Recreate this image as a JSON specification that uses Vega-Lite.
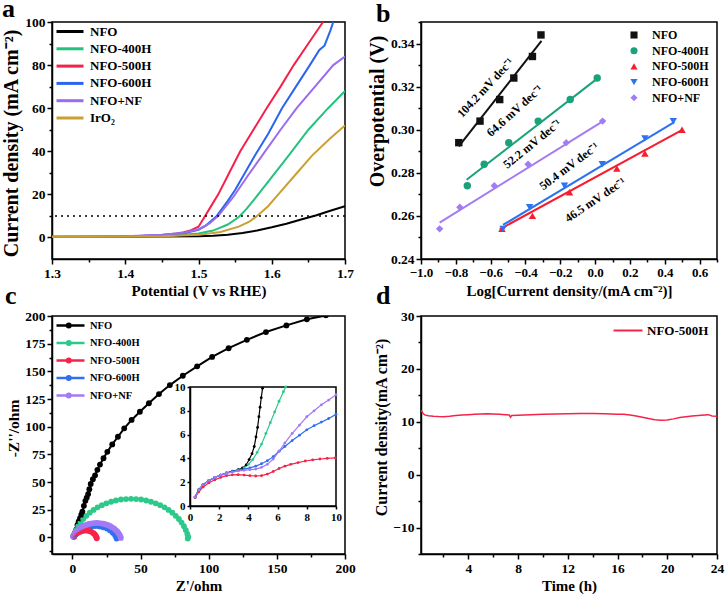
{
"$schema":"https://vega.github.io/schema/vega-lite/v6.json",
"autosize":{"type":"none"},
"padding":{"left":52,"top":22,"right":674,"bottom":582},
"background":"white",
"columns":2,
"spacing":{"row":57,"column":76},
"bounds":"flush",
"align":"each",
"resolve":{"scale":{"color":"independent","shape":"independent","stroke":"independent"},"legend":{"color":"independent","shape":"independent","stroke":"independent"}},
"config":{
 "view":{"stroke":"black","strokeWidth":1.5},
 "font":"Liberation Serif",
 "title":{"font":"Liberation Serif","fontSize":26,"fontWeight":"bold","color":"black","anchor":"start","frame":"group"},
 "axis":{"domainColor":"black","domainWidth":1.5,"tickColor":"black","tickWidth":1.5,"tickSize":5,"labelFont":"Liberation Serif","labelFontSize":13.5,"labelFontWeight":"bold","labelColor":"black","titleFont":"Liberation Serif","titleFontSize":15,"titleFontWeight":"bold","titleColor":"black","grid":false,"labelPadding":2,"titlePadding":4,"labelFlush":false,"labelOverlap":false},
 "axisY":{"titlePadding":3},
 "legend":{"labelFont":"Liberation Serif","labelFontWeight":"bold","labelColor":"black","title":null,"padding":0}
},
"concat":[
{
 "width":293,"height":237,
 "title":{"text":"a","dx":-50,"dy":7,"offset":0},
 "resolve":{"axis":{"x":"independent","y":"independent"}},
 "data":{"values":[
{"s":"NFO","v":1.30,"j":0.2},{"s":"NFO","v":1.35,"j":0.2},{"s":"NFO","v":1.40,"j":0.3},{"s":"NFO","v":1.45,"j":0.4},{"s":"NFO","v":1.50,"j":0.6},{"s":"NFO","v":1.52,"j":0.8},{"s":"NFO","v":1.54,"j":1.3},{"s":"NFO","v":1.56,"j":2.1},{"s":"NFO","v":1.58,"j":3.2},{"s":"NFO","v":1.60,"j":4.7},{"s":"NFO","v":1.62,"j":6.4},{"s":"NFO","v":1.64,"j":8.3},{"s":"NFO","v":1.66,"j":10.2},{"s":"NFO","v":1.68,"j":12.4},{"s":"NFO","v":1.70,"j":14.5},
{"s":"NFO-400H","v":1.30,"j":0.2},{"s":"NFO-400H","v":1.40,"j":0.4},{"s":"NFO-400H","v":1.45,"j":0.6},{"s":"NFO-400H","v":1.50,"j":1.8},{"s":"NFO-400H","v":1.52,"j":3.2},{"s":"NFO-400H","v":1.54,"j":6.0},{"s":"NFO-400H","v":1.555,"j":9.5},{"s":"NFO-400H","v":1.565,"j":13},{"s":"NFO-400H","v":1.577,"j":18},{"s":"NFO-400H","v":1.60,"j":28},{"s":"NFO-400H","v":1.623,"j":38},{"s":"NFO-400H","v":1.65,"j":50},{"s":"NFO-400H","v":1.677,"j":60},{"s":"NFO-400H","v":1.70,"j":68},
{"s":"NFO-500H","v":1.30,"j":0.3},{"s":"NFO-500H","v":1.35,"j":0.3},{"s":"NFO-500H","v":1.40,"j":0.5},{"s":"NFO-500H","v":1.43,"j":0.8},{"s":"NFO-500H","v":1.45,"j":1.1},{"s":"NFO-500H","v":1.47,"j":1.8},{"s":"NFO-500H","v":1.48,"j":2.4},{"s":"NFO-500H","v":1.49,"j":3.4},{"s":"NFO-500H","v":1.50,"j":5.0},{"s":"NFO-500H","v":1.509,"j":10},{"s":"NFO-500H","v":1.518,"j":15},{"s":"NFO-500H","v":1.527,"j":20},{"s":"NFO-500H","v":1.542,"j":30},{"s":"NFO-500H","v":1.557,"j":40},{"s":"NFO-500H","v":1.575,"j":50},{"s":"NFO-500H","v":1.593,"j":60},{"s":"NFO-500H","v":1.612,"j":70},{"s":"NFO-500H","v":1.63,"j":80},{"s":"NFO-500H","v":1.65,"j":90},{"s":"NFO-500H","v":1.67,"j":100},
{"s":"NFO-600H","v":1.30,"j":0.3},{"s":"NFO-600H","v":1.40,"j":0.5},{"s":"NFO-600H","v":1.45,"j":1.0},{"s":"NFO-600H","v":1.48,"j":2.0},{"s":"NFO-600H","v":1.50,"j":3.5},{"s":"NFO-600H","v":1.51,"j":5.5},{"s":"NFO-600H","v":1.52,"j":8.5},{"s":"NFO-600H","v":1.525,"j":10},{"s":"NFO-600H","v":1.54,"j":17},{"s":"NFO-600H","v":1.55,"j":22},{"s":"NFO-600H","v":1.577,"j":38},{"s":"NFO-600H","v":1.595,"j":48},{"s":"NFO-600H","v":1.614,"j":60},{"s":"NFO-600H","v":1.633,"j":70},{"s":"NFO-600H","v":1.652,"j":80},{"s":"NFO-600H","v":1.665,"j":87},{"s":"NFO-600H","v":1.672,"j":89},{"s":"NFO-600H","v":1.68,"j":96},{"s":"NFO-600H","v":1.684,"j":100},
{"s":"NFO+NF","v":1.30,"j":0.3},{"s":"NFO+NF","v":1.40,"j":0.6},{"s":"NFO+NF","v":1.45,"j":1.2},{"s":"NFO+NF","v":1.48,"j":2.2},{"s":"NFO+NF","v":1.50,"j":3.8},{"s":"NFO+NF","v":1.515,"j":6.5},{"s":"NFO+NF","v":1.527,"j":10},{"s":"NFO+NF","v":1.548,"j":19},{"s":"NFO+NF","v":1.568,"j":29},{"s":"NFO+NF","v":1.589,"j":39},{"s":"NFO+NF","v":1.612,"j":50},{"s":"NFO+NF","v":1.634,"j":60},{"s":"NFO+NF","v":1.659,"j":70},{"s":"NFO+NF","v":1.684,"j":80},{"s":"NFO+NF","v":1.70,"j":84},
{"s":"IrO₂","v":1.30,"j":0.3},{"s":"IrO₂","v":1.40,"j":0.4},{"s":"IrO₂","v":1.45,"j":0.6},{"s":"IrO₂","v":1.50,"j":1.2},{"s":"IrO₂","v":1.53,"j":2.5},{"s":"IrO₂","v":1.555,"j":5.0},{"s":"IrO₂","v":1.57,"j":7.5},{"s":"IrO₂","v":1.58,"j":10},{"s":"IrO₂","v":1.595,"j":14.5},{"s":"IrO₂","v":1.609,"j":20},{"s":"IrO₂","v":1.632,"j":29},{"s":"IrO₂","v":1.655,"j":38},{"s":"IrO₂","v":1.68,"j":46},{"s":"IrO₂","v":1.70,"j":52}
 ]},
 "layer":[
  {"mark":{"type":"point","opacity":0},
   "encoding":{
    "x":{"field":"v","type":"quantitative","axis":{"orient":"bottom","values":[1.35,1.45,1.55,1.65],"labels":false,"domain":false,"tickSize":3,"title":null}},
    "y":{"field":"j","type":"quantitative","axis":{"orient":"left","values":[10,30,50,70,90],"labels":false,"domain":false,"tickSize":3,"title":null}}
   }},
  {"mark":{"type":"line","strokeWidth":2,"clip":true},
   "encoding":{
    "x":{"field":"v","type":"quantitative","scale":{"domain":[1.3,1.7],"nice":false,"zero":false},"axis":{"orient":"bottom","values":[1.3,1.4,1.5,1.6,1.7],"format":".1f","labelOverlap":false,"title":"Potential (V vs RHE)"}},
    "y":{"field":"j","type":"quantitative","scale":{"domain":[-10,100],"nice":false},"axis":{"orient":"left","values":[0,20,40,60,80,100],"labelOverlap":false,"title":"Current density (mA cm⁻²)","titleFontSize":20,"titleY":121}},
    "color":{"field":"s","type":"nominal","scale":{"domain":["NFO","NFO-400H","NFO-500H","NFO-600H","NFO+NF","IrO₂"],"range":["#000000","#25c17f","#f4224b","#2b65ef","#9b6bf0","#c9a033"]},
      "legend":{"orient":"top-left","offset":3,"symbolType":"M-1,0H4.4","symbolSize":100,"symbolStrokeWidth":3,"labelFontSize":13,"labelOffset":22,"rowPadding":3.3}}
   }},
  {"data":{"values":[{"ref":10}]},"mark":{"type":"rule","strokeDash":[2,4],"strokeWidth":1.5,"color":"black"},"encoding":{"y":{"field":"ref","type":"quantitative","axis":null}}}
 ]
},
{
 "width":296,"height":237,
 "title":{"text":"b","dx":-45,"dy":6,"offset":0},
 "resolve":{"axis":{"x":"independent","y":"independent"}},
 "data":{"values":[
{"s":"NFO","x":-0.783,"y":0.294},{"s":"NFO","x":-0.661,"y":0.304},{"s":"NFO","x":-0.548,"y":0.314},{"s":"NFO","x":-0.467,"y":0.324},{"s":"NFO","x":-0.36,"y":0.334},{"s":"NFO","x":-0.311,"y":0.344},
{"s":"NFO-400H","x":-0.734,"y":0.274},{"s":"NFO-400H","x":-0.637,"y":0.284},{"s":"NFO-400H","x":-0.496,"y":0.294},{"s":"NFO-400H","x":-0.327,"y":0.304},{"s":"NFO-400H","x":-0.143,"y":0.314},{"s":"NFO-400H","x":0.012,"y":0.324},
{"s":"NFO-500H","x":-0.535,"y":0.254},{"s":"NFO-500H","x":-0.36,"y":0.260},{"s":"NFO-500H","x":-0.147,"y":0.271},{"s":"NFO-500H","x":0.125,"y":0.282},{"s":"NFO-500H","x":0.286,"y":0.289},{"s":"NFO-500H","x":0.499,"y":0.300},
{"s":"NFO-600H","x":-0.529,"y":0.254},{"s":"NFO-600H","x":-0.376,"y":0.264},{"s":"NFO-600H","x":-0.176,"y":0.274},{"s":"NFO-600H","x":0.041,"y":0.284},{"s":"NFO-600H","x":0.286,"y":0.296},{"s":"NFO-600H","x":0.449,"y":0.304},
{"s":"NFO+NF","x":-0.893,"y":0.254},{"s":"NFO+NF","x":-0.777,"y":0.264},{"s":"NFO+NF","x":-0.579,"y":0.274},{"s":"NFO+NF","x":-0.385,"y":0.284},{"s":"NFO+NF","x":-0.166,"y":0.294},{"s":"NFO+NF","x":0.043,"y":0.304}
 ]},
 "layer":[
  {"mark":{"type":"point","opacity":0},
   "encoding":{
    "x":{"field":"x","type":"quantitative","axis":{"orient":"bottom","values":[-0.9,-0.7,-0.5,-0.3,-0.1,0.1,0.3,0.5,0.7],"labels":false,"domain":false,"tickSize":3,"title":null}},
    "y":{"field":"y","type":"quantitative","axis":{"orient":"left","values":[0.25,0.27,0.29,0.31,0.33,0.35],"labels":false,"domain":false,"tickSize":3,"title":null}}
   }},
  {"data":{"values":[
{"s":"NFO","x":-0.783,"y":0.2923},{"s":"NFO","x":-0.308,"y":0.3412},
{"s":"NFO-400H","x":-0.738,"y":0.2768},{"s":"NFO-400H","x":0.012,"y":0.3237},
{"s":"NFO-500H","x":-0.548,"y":0.2538},{"s":"NFO-500H","x":0.493,"y":0.2996},
{"s":"NFO-600H","x":-0.529,"y":0.2558},{"s":"NFO-600H","x":0.455,"y":0.3035},
{"s":"NFO+NF","x":-0.893,"y":0.2569},{"s":"NFO+NF","x":0.041,"y":0.3038}
  ]},
   "mark":{"type":"line","strokeWidth":2},
   "encoding":{
    "x":{"field":"x","type":"quantitative","scale":{"domain":[-1.0,0.7],"nice":false,"zero":false},"axis":{"orient":"bottom","values":[-1.0,-0.8,-0.6,-0.4,-0.2,0,0.2,0.4,0.6],"format":".1f","labelOverlap":false,"labelFontSize":13,"title":"Log[Current density/(mA cm⁻²)]"}},
    "y":{"field":"y","type":"quantitative","scale":{"domain":[0.24,0.35],"nice":false,"zero":false},"axis":{"orient":"left","values":[0.24,0.26,0.28,0.30,0.32,0.34],"format":".2f","labelOverlap":false,"title":"Overpotential (V)","titleFontSize":20,"titleY":89}},
    "stroke":{"field":"s","type":"nominal","scale":{"domain":["NFO+NF","NFO-600H","NFO-500H","NFO-400H","NFO"],"range":["#a27cf2","#2b73f0","#f51d2e","#1aa27a","#111111"]},"legend":null}
   }},
  {"mark":{"type":"point","filled":true,"size":55,"opacity":1},
   "encoding":{
    "x":{"field":"x","type":"quantitative","axis":null},
    "y":{"field":"y","type":"quantitative","axis":null},
    "color":{"field":"s","type":"nominal","scale":{"domain":["NFO","NFO-400H","NFO-500H","NFO-600H","NFO+NF"],"range":["#111111","#1aa27a","#f51d2e","#2b73f0","#a27cf2"]},"legend":{"orient":"none","legendX":207,"legendY":7,"labelFontSize":12,"symbolSize":50,"labelOffset":12,"rowPadding":3.7}},
    "shape":{"field":"s","type":"nominal","scale":{"domain":["NFO","NFO-400H","NFO-500H","NFO-600H","NFO+NF"],"range":["square","circle","triangle-up","triangle-down","diamond"]},"legend":{"orient":"none","legendX":207,"legendY":7,"labelFontSize":12,"symbolSize":50,"labelOffset":12,"rowPadding":3.7}}
   }},
  {"data":{"values":[{"x":-0.631,"y":0.3195,"t":"104.2 mV dec⁻¹"}]},"mark":{"type":"text","angle":313,"fontSize":12,"fontWeight":"bold","font":"Liberation Serif","color":"black","baseline":"middle","align":"center"},"encoding":{"x":{"field":"x","type":"quantitative","axis":null},"y":{"field":"y","type":"quantitative","axis":null},"text":{"field":"t"}}},
  {"data":{"values":[{"x":-0.463,"y":0.3088,"t":"64.6 mV dec⁻¹"}]},"mark":{"type":"text","angle":318,"fontSize":12,"fontWeight":"bold","font":"Liberation Serif","color":"black","baseline":"middle","align":"center"},"encoding":{"x":{"field":"x","type":"quantitative","axis":null},"y":{"field":"y","type":"quantitative","axis":null},"text":{"field":"t"}}},
  {"data":{"values":[{"x":-0.362,"y":0.2935,"t":"52.2 mV dec⁻¹"}]},"mark":{"type":"text","angle":321,"fontSize":12,"fontWeight":"bold","font":"Liberation Serif","color":"black","baseline":"middle","align":"center"},"encoding":{"x":{"field":"x","type":"quantitative","axis":null},"y":{"field":"y","type":"quantitative","axis":null},"text":{"field":"t"}}},
  {"data":{"values":[{"x":-0.150,"y":0.2831,"t":"50.4 mV dec⁻¹"}]},"mark":{"type":"text","angle":323,"fontSize":12,"fontWeight":"bold","font":"Liberation Serif","color":"black","baseline":"middle","align":"center"},"encoding":{"x":{"field":"x","type":"quantitative","axis":null},"y":{"field":"y","type":"quantitative","axis":null},"text":{"field":"t"}}},
  {"data":{"values":[{"x":0.0,"y":0.2675,"t":"46.5 mV dec⁻¹"}]},"mark":{"type":"text","angle":326,"fontSize":12,"fontWeight":"bold","font":"Liberation Serif","color":"black","baseline":"middle","align":"center"},"encoding":{"x":{"field":"x","type":"quantitative","axis":null},"y":{"field":"y","type":"quantitative","axis":null},"text":{"field":"t"}}}
 ]
},
{
 "width":293,"height":238,
 "title":{"text":"c","dx":-47,"offset":0},
 "encoding":{"color":{"field":"s","type":"nominal","scale":{"domain":["NFO","NFO-400H","NFO-500H","NFO-600H","NFO+NF"],"range":["#000000","#2dc98b","#f5234a","#2f6ff0","#a27af5"]},
   "legend":{"orient":"top-left","offset":3,"symbolType":"M-1,0H4.6M1.45,0m-0.35,0a0.35,0.35 0 1,0 0.7,0a0.35,0.35 0 1,0 -0.7,0","symbolSize":100,"symbolStrokeWidth":2.5,"labelFontSize":10.5,"labelOffset":22,"rowPadding":2.5}}},
 "resolve":{"scale":{"x":"independent","y":"independent"},"axis":{"x":"independent","y":"independent"}},
 "data":{"values":[
{"s":"NFO","i":0,"x":0.8,"y":1.5},{"s":"NFO","i":1,"x":1.8,"y":4},{"s":"NFO","i":2,"x":2.8,"y":7},{"s":"NFO","i":3,"x":3.7,"y":11.2},{"s":"NFO","i":4,"x":4.6,"y":14.5},{"s":"NFO","i":5,"x":5.6,"y":17.3},{"s":"NFO","i":6,"x":6.5,"y":20.5},{"s":"NFO","i":7,"x":7.3,"y":23.3},{"s":"NFO","i":8,"x":8.4,"y":28.5},{"s":"NFO","i":9,"x":9.5,"y":33},{"s":"NFO","i":10,"x":10.5,"y":36},{"s":"NFO","i":11,"x":11.5,"y":39.1},{"s":"NFO","i":12,"x":12.4,"y":43.5},{"s":"NFO","i":13,"x":13.4,"y":48.2},{"s":"NFO","i":14,"x":15,"y":52.5},{"s":"NFO","i":15,"x":16.6,"y":56.1},{"s":"NFO","i":16,"x":18.3,"y":61},{"s":"NFO","i":17,"x":20.2,"y":65.8},{"s":"NFO","i":18,"x":22.8,"y":71.5},{"s":"NFO","i":19,"x":25.6,"y":77.3},{"s":"NFO","i":20,"x":29.2,"y":84},{"s":"NFO","i":21,"x":33.4,"y":90.9},{"s":"NFO","i":22,"x":38,"y":98.5},{"s":"NFO","i":23,"x":43.4,"y":106.1},{"s":"NFO","i":24,"x":49.5,"y":113.5},{"s":"NFO","i":25,"x":56.1,"y":121.2},{"s":"NFO","i":26,"x":63.5,"y":129.5},{"s":"NFO","i":27,"x":71.5,"y":137.6},{"s":"NFO","i":28,"x":81,"y":146},{"s":"NFO","i":29,"x":91.5,"y":154.5},{"s":"NFO","i":30,"x":102.5,"y":163},{"s":"NFO","i":31,"x":114.6,"y":170.9},{"s":"NFO","i":32,"x":128,"y":178.5},{"s":"NFO","i":33,"x":142,"y":185.5},{"s":"NFO","i":34,"x":157,"y":191.5},{"s":"NFO","i":35,"x":172,"y":197},{"s":"NFO","i":36,"x":186,"y":200.5},
{"s":"NFO-400H","i":0,"x":1.0,"y":0.5},{"s":"NFO-400H","i":1,"x":1.7,"y":3.1},{"s":"NFO-400H","i":2,"x":2.8,"y":6.6},{"s":"NFO-400H","i":3,"x":4.2,"y":10.1},{"s":"NFO-400H","i":4,"x":5.9,"y":13.4},{"s":"NFO-400H","i":5,"x":7.9,"y":16.6},{"s":"NFO-400H","i":6,"x":10.2,"y":19.5},{"s":"NFO-400H","i":7,"x":12.7,"y":22.3},{"s":"NFO-400H","i":8,"x":15.5,"y":24.8},{"s":"NFO-400H","i":9,"x":18.4,"y":27.1},{"s":"NFO-400H","i":10,"x":21.6,"y":29.1},{"s":"NFO-400H","i":11,"x":24.9,"y":30.8},{"s":"NFO-400H","i":12,"x":28.4,"y":32.2},{"s":"NFO-400H","i":13,"x":31.9,"y":33.3},{"s":"NFO-400H","i":14,"x":35.6,"y":34.2},{"s":"NFO-400H","i":15,"x":39.3,"y":34.6},{"s":"NFO-400H","i":16,"x":43,"y":34.8},{"s":"NFO-400H","i":17,"x":46.7,"y":34.6},{"s":"NFO-400H","i":18,"x":50.4,"y":34.2},{"s":"NFO-400H","i":19,"x":54.1,"y":33.3},{"s":"NFO-400H","i":20,"x":57.6,"y":32.2},{"s":"NFO-400H","i":21,"x":61.1,"y":30.8},{"s":"NFO-400H","i":22,"x":64.4,"y":29.1},{"s":"NFO-400H","i":23,"x":67.6,"y":27.1},{"s":"NFO-400H","i":24,"x":70.5,"y":24.8},{"s":"NFO-400H","i":25,"x":73.3,"y":22.3},{"s":"NFO-400H","i":26,"x":75.8,"y":19.5},{"s":"NFO-400H","i":27,"x":78.1,"y":16.6},{"s":"NFO-400H","i":28,"x":80.1,"y":13.4},{"s":"NFO-400H","i":29,"x":81.8,"y":10.1},{"s":"NFO-400H","i":30,"x":83.2,"y":6.6},{"s":"NFO-400H","i":31,"x":84.3,"y":3.1},{"s":"NFO-400H","i":32,"x":85.0,"y":0.5},{"s":"NFO-400H","i":33,"x":84.6,"y":-1.0},
{"s":"NFO-500H","i":0,"x":1.2,"y":0.5},{"s":"NFO-500H","i":1,"x":1.5,"y":1.5},{"s":"NFO-500H","i":2,"x":2.2,"y":2.6},{"s":"NFO-500H","i":3,"x":3.2,"y":3.6},{"s":"NFO-500H","i":4,"x":4.4,"y":4.5},{"s":"NFO-500H","i":5,"x":5.7,"y":5.2},{"s":"NFO-500H","i":6,"x":7.1,"y":5.8},{"s":"NFO-500H","i":7,"x":8.5,"y":6.2},{"s":"NFO-500H","i":8,"x":10,"y":6.3},{"s":"NFO-500H","i":9,"x":11.5,"y":6.1},{"s":"NFO-500H","i":10,"x":12.9,"y":5.6},{"s":"NFO-500H","i":11,"x":14.2,"y":4.8},{"s":"NFO-500H","i":12,"x":15.4,"y":3.8},{"s":"NFO-500H","i":13,"x":16.4,"y":2.6},{"s":"NFO-500H","i":14,"x":17.2,"y":1.3},{"s":"NFO-500H","i":15,"x":17.7,"y":0},{"s":"NFO-500H","i":16,"x":17.8,"y":-0.8},
{"s":"NFO-600H","i":0,"x":0.8,"y":0.5},{"s":"NFO-600H","i":1,"x":1.5,"y":1.6},{"s":"NFO-600H","i":2,"x":2.7,"y":3.3},{"s":"NFO-600H","i":3,"x":4.4,"y":5.0},{"s":"NFO-600H","i":4,"x":6.4,"y":6.6},{"s":"NFO-600H","i":5,"x":8.75,"y":8.0},{"s":"NFO-600H","i":6,"x":11.4,"y":9.2},{"s":"NFO-600H","i":7,"x":14.1,"y":9.95},{"s":"NFO-600H","i":8,"x":17,"y":10.2},{"s":"NFO-600H","i":9,"x":19.9,"y":9.95},{"s":"NFO-600H","i":10,"x":22.6,"y":9.2},{"s":"NFO-600H","i":11,"x":25.3,"y":8.0},{"s":"NFO-600H","i":12,"x":27.6,"y":6.3},{"s":"NFO-600H","i":13,"x":29.6,"y":4.3},{"s":"NFO-600H","i":14,"x":31.3,"y":1.95},{"s":"NFO-600H","i":15,"x":32.3,"y":0},{"s":"NFO-600H","i":16,"x":32.4,"y":-1},
{"s":"NFO+NF","i":0,"x":0.4,"y":0.8},{"s":"NFO+NF","i":1,"x":1.0,"y":2.5},{"s":"NFO+NF","i":2,"x":1.8,"y":3.75},{"s":"NFO+NF","i":3,"x":2.6,"y":5.1},{"s":"NFO+NF","i":4,"x":3.6,"y":6.4},{"s":"NFO+NF","i":5,"x":4.7,"y":7.6},{"s":"NFO+NF","i":6,"x":5.9,"y":8.67},{"s":"NFO+NF","i":7,"x":7.2,"y":9.6},{"s":"NFO+NF","i":8,"x":8.55,"y":10.5},{"s":"NFO+NF","i":9,"x":10,"y":11.2},{"s":"NFO+NF","i":10,"x":11.5,"y":11.9},{"s":"NFO+NF","i":11,"x":13,"y":12.3},{"s":"NFO+NF","i":12,"x":14.6,"y":12.7},{"s":"NFO+NF","i":13,"x":16.2,"y":12.9},{"s":"NFO+NF","i":14,"x":17.8,"y":13.0},{"s":"NFO+NF","i":15,"x":19.4,"y":12.9},{"s":"NFO+NF","i":16,"x":21.0,"y":12.7},{"s":"NFO+NF","i":17,"x":22.6,"y":12.3},{"s":"NFO+NF","i":18,"x":24.1,"y":11.9},{"s":"NFO+NF","i":19,"x":25.6,"y":11.2},{"s":"NFO+NF","i":20,"x":27.1,"y":10.5},{"s":"NFO+NF","i":21,"x":28.4,"y":9.6},{"s":"NFO+NF","i":22,"x":29.7,"y":8.67},{"s":"NFO+NF","i":23,"x":30.9,"y":7.6},{"s":"NFO+NF","i":24,"x":32.0,"y":6.4},{"s":"NFO+NF","i":25,"x":33.0,"y":5.1},{"s":"NFO+NF","i":26,"x":33.8,"y":3.75},{"s":"NFO+NF","i":27,"x":34.6,"y":2.3},{"s":"NFO+NF","i":28,"x":35.2,"y":0.83},{"s":"NFO+NF","i":29,"x":35.5,"y":-0.5}
 ]},
 "layer":[
  {"mark":{"type":"point","opacity":0},
   "encoding":{
    "x":{"field":"x","type":"quantitative","scale":{"domain":[-15,200],"nice":false,"zero":false},"axis":{"orient":"bottom","values":[25,75,125,175],"labels":false,"domain":false,"tickSize":3,"title":null}},
    "y":{"field":"y","type":"quantitative","scale":{"domain":[-15,200],"nice":false,"zero":false},"axis":{"orient":"left","values":[-12.5,12.5,37.5,62.5,87.5,112.5,137.5,162.5,187.5],"labels":false,"domain":false,"tickSize":3,"title":null}}
   }},
  {"encoding":{
    "x":{"field":"x","type":"quantitative","scale":{"domain":[-15,200],"nice":false,"zero":false},"axis":{"orient":"bottom","values":[0,50,100,150,200],"labelOverlap":false,"title":"Z'/ohm"}},
    "y":{"field":"y","type":"quantitative","scale":{"domain":[-15,200],"nice":false,"zero":false},"axis":{"orient":"left","values":[0,25,50,75,100,125,150,175,200],"labelOverlap":false,"title":"-Z''/ohm","titleFontSize":15.5,"titleY":112}},
    "order":{"field":"i","type":"quantitative"}
   },
   "layer":[
    {"mark":{"type":"line","strokeWidth":2,"clip":true}},
    {"mark":{"type":"point","filled":true,"opacity":1,"size":34,"clip":true}}
   ]},
  {"layer":[
    {"data":{"values":[{"x0":0,"x1":10,"y0":0,"y1":10}]},
     "mark":{"type":"rect","fill":"white","stroke":"black","strokeWidth":1.5},
     "encoding":{"x":{"field":"x0","type":"quantitative","scale":{"domain":[0,10],"range":[138,284],"nice":false,"zero":false},"axis":{"orient":"bottom","offset":-48,"values":[0,2,4,6,8,10],"labelOverlap":false,"labelFontSize":11,"tickSize":3,"title":null,"zindex":2}},"x2":{"field":"x1"},
      "y":{"field":"y0","type":"quantitative","scale":{"domain":[0,10],"range":[190,71],"nice":false,"zero":false},"axis":{"orient":"left","offset":-138,"values":[0,2,4,6,8,10],"labelOverlap":false,"labelFontSize":11,"tickSize":3,"title":null,"zindex":2}},"y2":{"field":"y1"},"color":{"value":"white"}}},
    {"data":{"values":[
{"s":"NFO","i":0,"x":0.35,"y":0.75},{"s":"NFO","i":1,"x":0.6,"y":1.35},{"s":"NFO","i":2,"x":0.9,"y":1.8},{"s":"NFO","i":3,"x":1.3,"y":2.15},{"s":"NFO","i":4,"x":1.7,"y":2.4},{"s":"NFO","i":5,"x":2.1,"y":2.6},{"s":"NFO","i":6,"x":2.5,"y":2.78},{"s":"NFO","i":7,"x":2.9,"y":2.92},{"s":"NFO","i":8,"x":3.3,"y":3.05},{"s":"NFO","i":9,"x":3.6,"y":3.2},{"s":"NFO","i":10,"x":3.85,"y":3.45},{"s":"NFO","i":11,"x":4.05,"y":3.9},{"s":"NFO","i":12,"x":4.25,"y":4.4},{"s":"NFO","i":13,"x":4.4,"y":5.0},{"s":"NFO","i":14,"x":4.52,"y":5.8},{"s":"NFO","i":15,"x":4.63,"y":6.6},{"s":"NFO","i":16,"x":4.72,"y":7.5},{"s":"NFO","i":17,"x":4.8,"y":8.3},{"s":"NFO","i":18,"x":4.88,"y":9.1},{"s":"NFO","i":19,"x":4.97,"y":9.9},
{"s":"NFO-400H","i":0,"x":0.35,"y":0.75},{"s":"NFO-400H","i":1,"x":0.6,"y":1.35},{"s":"NFO-400H","i":2,"x":0.9,"y":1.8},{"s":"NFO-400H","i":3,"x":1.3,"y":2.15},{"s":"NFO-400H","i":4,"x":1.7,"y":2.4},{"s":"NFO-400H","i":5,"x":2.1,"y":2.6},{"s":"NFO-400H","i":6,"x":2.5,"y":2.75},{"s":"NFO-400H","i":7,"x":2.9,"y":2.88},{"s":"NFO-400H","i":8,"x":3.3,"y":3.0},{"s":"NFO-400H","i":9,"x":3.7,"y":3.2},{"s":"NFO-400H","i":10,"x":4.0,"y":3.5},{"s":"NFO-400H","i":11,"x":4.3,"y":3.9},{"s":"NFO-400H","i":12,"x":4.6,"y":4.5},{"s":"NFO-400H","i":13,"x":4.9,"y":5.2},{"s":"NFO-400H","i":14,"x":5.2,"y":6.1},{"s":"NFO-400H","i":15,"x":5.5,"y":7.0},{"s":"NFO-400H","i":16,"x":5.8,"y":7.9},{"s":"NFO-400H","i":17,"x":6.1,"y":8.8},{"s":"NFO-400H","i":18,"x":6.4,"y":9.6},{"s":"NFO-400H","i":19,"x":6.55,"y":10},
{"s":"NFO-500H","i":0,"x":0.35,"y":0.7},{"s":"NFO-500H","i":1,"x":0.6,"y":1.2},{"s":"NFO-500H","i":2,"x":0.9,"y":1.6},{"s":"NFO-500H","i":3,"x":1.3,"y":1.95},{"s":"NFO-500H","i":4,"x":1.7,"y":2.2},{"s":"NFO-500H","i":5,"x":2.1,"y":2.4},{"s":"NFO-500H","i":6,"x":2.5,"y":2.55},{"s":"NFO-500H","i":7,"x":2.9,"y":2.62},{"s":"NFO-500H","i":8,"x":3.3,"y":2.63},{"s":"NFO-500H","i":9,"x":3.7,"y":2.6},{"s":"NFO-500H","i":10,"x":4.1,"y":2.55},{"s":"NFO-500H","i":11,"x":4.5,"y":2.52},{"s":"NFO-500H","i":12,"x":4.9,"y":2.55},{"s":"NFO-500H","i":13,"x":5.3,"y":2.68},{"s":"NFO-500H","i":14,"x":5.7,"y":2.9},{"s":"NFO-500H","i":15,"x":6.1,"y":3.15},{"s":"NFO-500H","i":16,"x":6.5,"y":3.35},{"s":"NFO-500H","i":17,"x":6.9,"y":3.5},{"s":"NFO-500H","i":18,"x":7.4,"y":3.65},{"s":"NFO-500H","i":19,"x":7.9,"y":3.78},{"s":"NFO-500H","i":20,"x":8.4,"y":3.87},{"s":"NFO-500H","i":21,"x":8.9,"y":3.95},{"s":"NFO-500H","i":22,"x":9.4,"y":4.0},{"s":"NFO-500H","i":23,"x":9.95,"y":4.05},
{"s":"NFO-600H","i":0,"x":0.35,"y":0.75},{"s":"NFO-600H","i":1,"x":0.6,"y":1.35},{"s":"NFO-600H","i":2,"x":0.9,"y":1.8},{"s":"NFO-600H","i":3,"x":1.3,"y":2.15},{"s":"NFO-600H","i":4,"x":1.7,"y":2.4},{"s":"NFO-600H","i":5,"x":2.1,"y":2.6},{"s":"NFO-600H","i":6,"x":2.5,"y":2.75},{"s":"NFO-600H","i":7,"x":2.9,"y":2.9},{"s":"NFO-600H","i":8,"x":3.3,"y":3.0},{"s":"NFO-600H","i":9,"x":3.7,"y":3.1},{"s":"NFO-600H","i":10,"x":4.1,"y":3.2},{"s":"NFO-600H","i":11,"x":4.5,"y":3.35},{"s":"NFO-600H","i":12,"x":4.9,"y":3.55},{"s":"NFO-600H","i":13,"x":5.3,"y":3.8},{"s":"NFO-600H","i":14,"x":5.7,"y":4.15},{"s":"NFO-600H","i":15,"x":6.1,"y":4.6},{"s":"NFO-600H","i":16,"x":6.5,"y":5.0},{"s":"NFO-600H","i":17,"x":7.0,"y":5.5},{"s":"NFO-600H","i":18,"x":7.5,"y":5.95},{"s":"NFO-600H","i":19,"x":8.0,"y":6.4},{"s":"NFO-600H","i":20,"x":8.5,"y":6.75},{"s":"NFO-600H","i":21,"x":9.0,"y":7.05},{"s":"NFO-600H","i":22,"x":9.5,"y":7.35},{"s":"NFO-600H","i":23,"x":10.0,"y":7.7},
{"s":"NFO+NF","i":0,"x":0.35,"y":0.75},{"s":"NFO+NF","i":1,"x":0.6,"y":1.35},{"s":"NFO+NF","i":2,"x":0.9,"y":1.8},{"s":"NFO+NF","i":3,"x":1.3,"y":2.15},{"s":"NFO+NF","i":4,"x":1.7,"y":2.4},{"s":"NFO+NF","i":5,"x":2.1,"y":2.6},{"s":"NFO+NF","i":6,"x":2.5,"y":2.75},{"s":"NFO+NF","i":7,"x":2.9,"y":2.85},{"s":"NFO+NF","i":8,"x":3.3,"y":2.95},{"s":"NFO+NF","i":9,"x":3.7,"y":3.0},{"s":"NFO+NF","i":10,"x":4.1,"y":3.05},{"s":"NFO+NF","i":11,"x":4.5,"y":3.1},{"s":"NFO+NF","i":12,"x":4.9,"y":3.25},{"s":"NFO+NF","i":13,"x":5.3,"y":3.5},{"s":"NFO+NF","i":14,"x":5.7,"y":3.95},{"s":"NFO+NF","i":15,"x":6.1,"y":4.6},{"s":"NFO+NF","i":16,"x":6.5,"y":5.3},{"s":"NFO+NF","i":17,"x":7.0,"y":6.1},{"s":"NFO+NF","i":18,"x":7.5,"y":6.8},{"s":"NFO+NF","i":19,"x":8.0,"y":7.5},{"s":"NFO+NF","i":20,"x":8.5,"y":8.0},{"s":"NFO+NF","i":21,"x":9.0,"y":8.5},{"s":"NFO+NF","i":22,"x":9.5,"y":8.9},{"s":"NFO+NF","i":23,"x":10.0,"y":9.35}
    ]},
     "encoding":{"x":{"field":"x","type":"quantitative"},"y":{"field":"y","type":"quantitative"},"order":{"field":"i","type":"quantitative"}},
     "layer":[
      {"mark":{"type":"line","strokeWidth":1.2}},
      {"mark":{"type":"point","filled":true,"opacity":1,"size":8}}
     ]}
  ]}
 ]
},
{
 "width":296,"height":238,
 "title":{"text":"d","dx":-45,"offset":0},
 "resolve":{"axis":{"x":"independent","y":"independent"}},
 "data":{"values":[
{"s":"NFO-500H","t":0.22,"j":12.2},{"s":"NFO-500H","t":0.35,"j":11.6},{"s":"NFO-500H","t":0.5,"j":11.3},{"s":"NFO-500H","t":0.8,"j":11.15},{"s":"NFO-500H","t":1.2,"j":11.05},{"s":"NFO-500H","t":1.6,"j":10.98},{"s":"NFO-500H","t":2.0,"j":10.95},{"s":"NFO-500H","t":2.5,"j":11.05},{"s":"NFO-500H","t":3.0,"j":11.2},{"s":"NFO-500H","t":3.5,"j":11.3},{"s":"NFO-500H","t":4.0,"j":11.35},{"s":"NFO-500H","t":4.5,"j":11.4},{"s":"NFO-500H","t":5.0,"j":11.45},{"s":"NFO-500H","t":5.5,"j":11.5},{"s":"NFO-500H","t":6.0,"j":11.45},{"s":"NFO-500H","t":6.5,"j":11.4},{"s":"NFO-500H","t":7.0,"j":11.35},{"s":"NFO-500H","t":7.3,"j":11.3},{"s":"NFO-500H","t":7.4,"j":10.85},{"s":"NFO-500H","t":7.5,"j":11.2},{"s":"NFO-500H","t":8.0,"j":11.25},{"s":"NFO-500H","t":8.5,"j":11.3},{"s":"NFO-500H","t":9.0,"j":11.35},{"s":"NFO-500H","t":10,"j":11.4},{"s":"NFO-500H","t":11,"j":11.45},{"s":"NFO-500H","t":12,"j":11.5},{"s":"NFO-500H","t":13,"j":11.55},{"s":"NFO-500H","t":14,"j":11.55},{"s":"NFO-500H","t":15,"j":11.5},{"s":"NFO-500H","t":15.5,"j":11.45},{"s":"NFO-500H","t":16,"j":11.4},{"s":"NFO-500H","t":16.5,"j":11.4},{"s":"NFO-500H","t":17,"j":11.3},{"s":"NFO-500H","t":17.5,"j":11.1},{"s":"NFO-500H","t":18,"j":10.85},{"s":"NFO-500H","t":18.5,"j":10.6},{"s":"NFO-500H","t":19,"j":10.4},{"s":"NFO-500H","t":19.5,"j":10.3},{"s":"NFO-500H","t":20,"j":10.35},{"s":"NFO-500H","t":20.5,"j":10.55},{"s":"NFO-500H","t":21,"j":10.8},{"s":"NFO-500H","t":21.5,"j":10.95},{"s":"NFO-500H","t":22,"j":11.1},{"s":"NFO-500H","t":22.5,"j":11.2},{"s":"NFO-500H","t":23,"j":11.3},{"s":"NFO-500H","t":23.3,"j":11.35},{"s":"NFO-500H","t":23.6,"j":11.1},{"s":"NFO-500H","t":24,"j":11.05}
 ]},
 "layer":[
  {"mark":{"type":"point","opacity":0},
   "encoding":{
    "x":{"field":"t","type":"quantitative","axis":{"orient":"bottom","values":[2,6,10,14,18,22],"labels":false,"domain":false,"tickSize":3,"title":null}},
    "y":{"field":"j","type":"quantitative","axis":{"orient":"left","values":[-15,-5,5,15,25],"labels":false,"domain":false,"tickSize":3,"title":null}}
   }},
  {"mark":{"type":"line","strokeWidth":1.5,"clip":true},
   "encoding":{
    "x":{"field":"t","type":"quantitative","scale":{"domain":[0.2,24],"nice":false,"zero":false},"axis":{"orient":"bottom","values":[4,8,12,16,20,24],"labelOverlap":false,"title":"Time (h)"}},
    "y":{"field":"j","type":"quantitative","scale":{"domain":[-15,30],"nice":false,"zero":false},"axis":{"orient":"left","values":[-10,0,10,20,30],"labelOverlap":false,"title":"Current density(mA cm⁻²)","titleFontSize":16,"titleY":111}},
    "color":{"field":"s","type":"nominal","scale":{"domain":["NFO-500H"],"range":["#f5234a"]},"legend":{"orient":"top-right","offset":8,"symbolType":"M-1,0H4.8","symbolSize":100,"symbolStrokeWidth":2,"labelFontSize":13,"labelOffset":22}}
   }}
 ]
}
]
}
